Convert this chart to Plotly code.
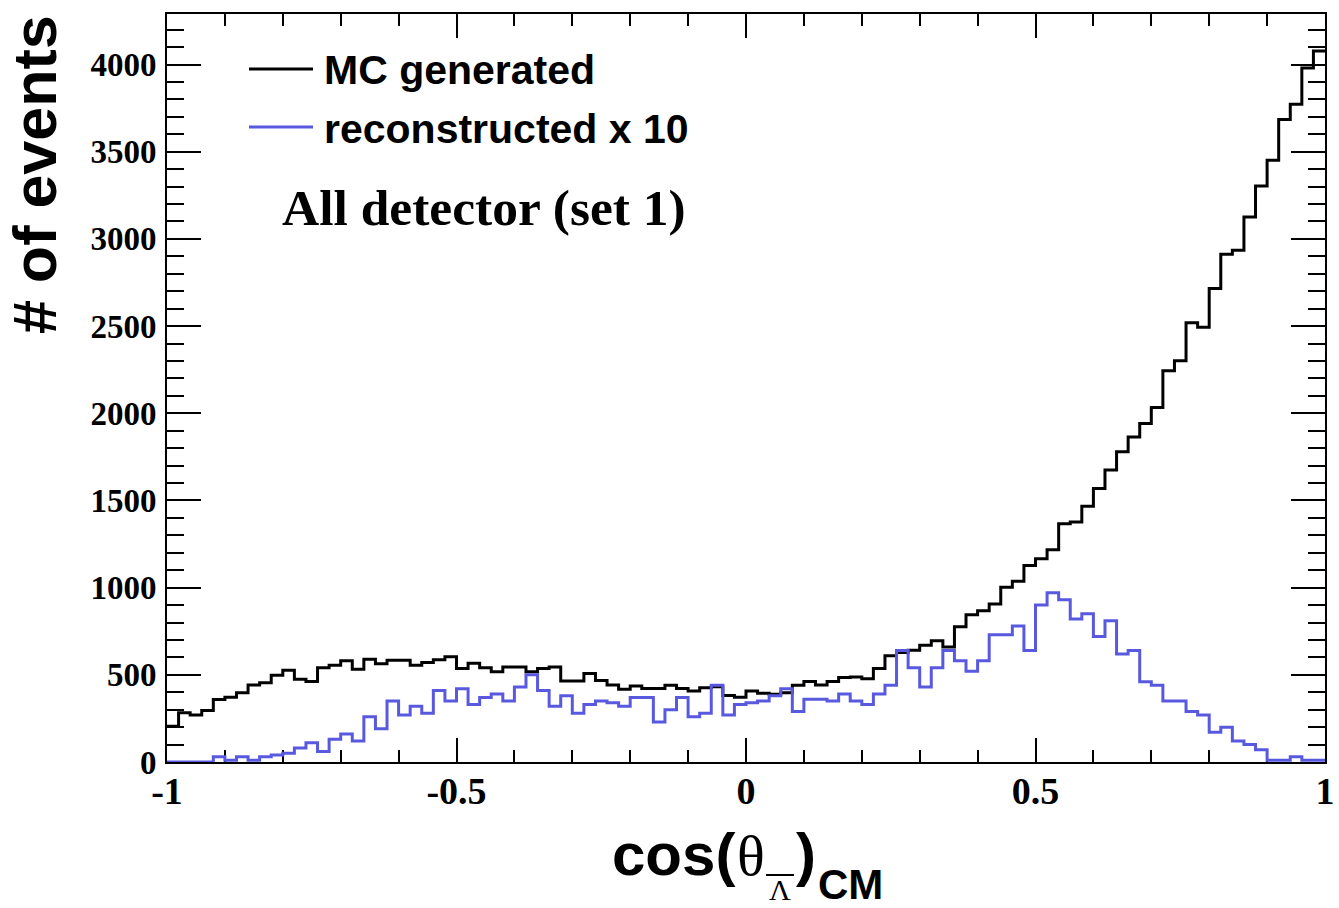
import numpy as np
import plotly.graph_objects as go

# ---------------- data ----------------
x_min, x_max, n_bins = -1.0, 1.0, 100

mc_generated = [
    205, 282, 269, 296, 359, 372, 397, 442, 455, 497,
    526, 474, 461, 541, 555, 580, 532, 589, 564, 584,
    584, 555, 570, 586, 603, 536, 566, 541, 518, 545,
    545, 518, 536, 545, 465, 465, 507, 468, 442, 417,
    436, 422, 422, 440, 422, 407, 426, 432, 382, 372,
    407, 394, 388, 397, 440, 461, 442, 461, 484, 488,
    478, 536, 609, 628, 641, 670, 695, 660, 776, 845,
    868, 906, 1002, 1037, 1127, 1165, 1218, 1366, 1377, 1467,
    1569, 1674, 1780, 1864, 1941, 2033, 2244, 2302, 2519, 2494,
    2715, 2912, 2935, 3126, 3304, 3451, 3685, 3773, 3981, 4078,
]

reconstructed_x10 = [
    0, 0, 0, 0, 30, 10, 30, 10, 30, 40,
    50, 80, 110, 60, 130, 160, 120, 260, 190, 350,
    270, 320, 280, 410, 350, 420, 330, 370, 390, 350,
    430, 500, 410, 320, 380, 280, 330, 350, 340, 320,
    370, 370, 230, 300, 370, 260, 280, 440, 270, 330,
    340, 350, 380, 420, 290, 360, 360, 350, 390, 350,
    330, 390, 440, 640, 540, 430, 540, 640, 580, 520,
    580, 730, 730, 780, 640, 900, 970, 930, 820, 850,
    720, 810, 620, 640, 460, 440, 350, 350, 290, 270,
    170, 200, 120, 100, 70, 10, 10, 30, 10, 10,
]

x_tick_vals = [-1, -0.5, 0, 0.5, 1]
x_tick_text = ["-1", "-0.5", "0", "0.5", "1"]
y_tick_vals = [0, 500, 1000, 1500, 2000, 2500, 3000, 3500, 4000]
y_tick_text = ["0", "500", "1000", "1500", "2000", "2500", "3000", "3500", "4000"]
y_max = 4290

legend_names = ["MC generated", "reconstructed x 10"]
colors = ["#000000", "#5959e0"]

# --------------- geometry ---------------
W, H = 1339, 908
L, R, T, B = 167, 14, 14, 146
PW, PH = W - L - R, H - T - B


def px(xp):
    return (xp - L) / PW


def py(yp):
    return (H - B - yp) / PH


edges = np.linspace(x_min, x_max, n_bins + 1)

fig = go.Figure()
for vals, name, col in zip([mc_generated, reconstructed_x10], legend_names, colors):
    fig.add_trace(go.Scatter(
        x=edges, y=list(vals) + [vals[-1]],
        mode="lines", line=dict(shape="hv", color=col, width=3),
        name=name, showlegend=False, hoverinfo="skip",
    ))

SANS = "Liberation Sans"
SERIF = "Liberation Serif"

annotations = []
shapes = []


def ann(text, xp, center_y, family, size, weight="bold", xanchor="left", angle=0):
    annotations.append(dict(
        text=text, xref="paper", yref="paper", x=px(xp), y=py(center_y),
        xanchor=xanchor, yanchor="middle", showarrow=False, textangle=angle,
        font=dict(family=family, size=size, color="black", weight=weight),
    ))


# legend (manual, ROOT style)
legend_rows = [(69, 69.5), (127, 129)]
for (ly, ty), name, col in zip(legend_rows, legend_names, colors):
    shapes.append(dict(type="line", xref="paper", yref="paper",
                       x0=px(249), x1=px(313), y0=py(ly), y1=py(ly),
                       line=dict(color=col, width=3)))
    ann(name, 322, ty, SANS, 41)

ann("All detector (set 1)", 280, 207, SERIF, 51.5)

# y axis title
ann("# of events", 35, 175, SANS, 61, xanchor="center", angle=-90)

# x axis title: cos(θ_{bar Λ})_CM
ann("cos(", 737, 875 - 0.3465 * 60, SANS, 60, xanchor="right")
ann("θ", 735, 875 - 0.3375 * 58, SERIF, 58, weight="normal")
ann("Λ", 780, 900 - 0.3375 * 30, SERIF, 30, weight="normal", xanchor="center")
shapes.append(dict(type="line", xref="paper", yref="paper",
                   x0=px(766), x1=px(794), y0=py(875), y1=py(875),
                   line=dict(color="black", width=2)))
ann(")", 794, 875 - 0.3465 * 60, SANS, 60)
ann("CM", 816, 899 - 0.3465 * 42, SANS, 42)

fig.update_layout(
    width=W, height=H,
    margin=dict(l=L, r=R, t=T, b=B, pad=0, autoexpand=False),
    paper_bgcolor="white", plot_bgcolor="white",
    showlegend=False,
    annotations=annotations, shapes=shapes,
    xaxis=dict(
        range=[x_min, x_max], showgrid=False, zeroline=False, automargin=False,
        showline=True, linecolor="black", linewidth=2, mirror="ticks",
        ticks="inside", ticklen=24, tickwidth=2, tickcolor="black",
        tickvals=x_tick_vals, ticktext=x_tick_text,
        tickfont=dict(family=SERIF, size=38, color="black", weight="bold"),
        ticklabelstandoff=-6,
        minor=dict(ticks="inside", dtick=0.1, ticklen=12, tickwidth=2, tickcolor="black", showgrid=False),
        layer="below traces",
    ),
    yaxis=dict(
        range=[0, y_max], showgrid=False, zeroline=False, automargin=False,
        showline=True, linecolor="black", linewidth=2, mirror="ticks",
        ticks="inside", ticklen=34, tickwidth=2, tickcolor="black",
        tickvals=y_tick_vals, ticktext=y_tick_text,
        tickfont=dict(family=SERIF, size=33, color="black", weight="bold"),
        ticklabelstandoff=2,
        minor=dict(ticks="inside", dtick=100, ticklen=17, tickwidth=2, tickcolor="black", showgrid=False),
        layer="below traces",
    ),
)

fig.write_html("out.html", config={"displayModeBar": False},
               post_script="document.body.style.margin='0px';")
